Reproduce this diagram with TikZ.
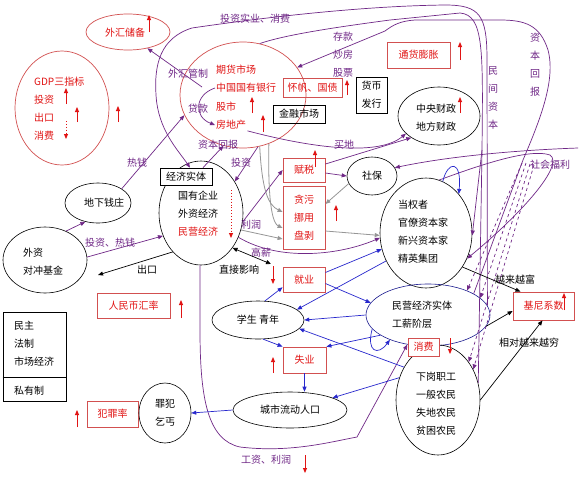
\documentclass[tikz,border=0pt]{standalone}
\usepackage{fontspec}
\setmainfont{Noto Sans CJK SC}
\usetikzlibrary{arrows.meta,shapes.geometric,calc}
\definecolor{pur}{RGB}{112,40,135}
\definecolor{redt}{RGB}{225,20,20}
\definecolor{redbd}{RGB}{210,80,80}
\definecolor{blu}{RGB}{40,40,205}
\definecolor{gr}{RGB}{150,150,150}
\begin{document}
\begin{tikzpicture}[x=1pt,y=-1pt,
  every node/.style={font=\fontsize{10}{18}\selectfont, inner sep=1pt},
  ell/.style={ellipse, draw=black, line width=0.6pt, inner sep=0pt},
  rell/.style={ellipse, draw=redbd, line width=0.7pt, inner sep=0pt},
  rbox/.style={draw=redbd, line width=0.8pt, text=redt, inner sep=0pt, align=center},
  kbox/.style={draw=black, line width=0.7pt, inner sep=0pt, align=center},
  ptxt/.style={text=pur},
  rtxt/.style={text=redt},
  tip/.style={-{Triangle[length=5pt,width=4pt]}},
  parr/.style={draw=pur, line width=0.7pt, tip},
  pline/.style={draw=pur, line width=0.7pt},
  pdash/.style={draw=pur, line width=0.7pt, dashed, tip},
  barr/.style={draw=blu, line width=0.7pt, tip},
  garr/.style={draw=gr, line width=0.8pt, tip},
  karr/.style={draw=black, line width=0.7pt, tip},
  kdarr/.style={draw=black, line width=0.7pt, {Triangle[length=5pt,width=4pt]}-{Triangle[length=5pt,width=4pt]}},
  redarr/.style={draw=redt, line width=0.9pt, -{Triangle[length=5pt,width=4pt]}},
  reddot/.style={draw=redt, line width=0.9pt, dotted, -{Triangle[length=5pt,width=4pt]}}
]
\fill[white] (0,0) rectangle (580,480);
\useasboundingbox (0,0) rectangle (580,480);

% ---------- shapes ----------
\node[rell, minimum width=84pt, minimum height=36pt] (whcb) at (128,32) {};
\node[rtxt] (twhcb) at (125,33) {外汇储备};
\node[rell, minimum width=94pt, minimum height=114pt] (gdp) at (62,108) {};
\node[rtxt, anchor=west, align=left] (tgdp) at (33,108.5) {GDP三指标\\投资\\出口\\消费};

\node[rell, minimum width=126pt, minimum height=106pt] (jr) at (243,95) {};
\node[rtxt, anchor=west] (qh) at (215,70) {期货市场};
\node[rtxt, anchor=west] (yh) at (215,88) {中国国有银行};
\node[rtxt, anchor=west] (gs) at (215,107) {股市};
\node[rtxt, anchor=west] (fdc) at (215,125) {房地产};
\node[ptxt] (wgz) at (188,74) {外汇管制};
\node[ptxt] (dk) at (198,109) {贷款};

\node[rbox, minimum width=59pt, minimum height=19pt] (hf) at (312.5,87.5) {怀帆、国债};
\node[kbox, minimum width=31pt, minimum height=36pt] (hb) at (371.5,95) {货币\\发行};
\node[kbox, minimum width=52pt, minimum height=18pt] (jrsc) at (299,114) {金融市场};
\node[rbox, minimum width=63pt, minimum height=26pt] (thpz) at (418.5,55) {通货膨胀};
\node[ell, minimum width=82pt, minimum height=58pt] (cz) at (439,116) {};
\node[anchor=west, align=left] (tcz) at (415,117.5) {中央财政\\地方财政};

\node[ptxt] (ltz) at (255,19) {投资实业、消费};
\node[ptxt, align=center] (lck) at (343,55) {存款\\炒房\\股票};
\node[ptxt, align=center] (lmj) at (493,98) {民\\间\\资\\本};
\node[ptxt, align=center] (lzb) at (535,65) {资\\本\\回\\报};
\node[ptxt] (lzbh) at (218,145) {资本回报};
\node[ptxt] (ltzi) at (241,163) {投资};
\node[ptxt] (lmd) at (344,145) {买地};

\node[ell, minimum width=84pt, minimum height=104pt] (gy) at (201,213) {};
\node[kbox, fill=white, minimum width=52pt, minimum height=17pt] (jjst) at (186,176.5) {经济实体};
\node[anchor=west, align=left] (tgy) at (177,214) {国有企业\\外资经济\\\textcolor{redt}{民营经济}};

\node[ell, minimum width=66pt, minimum height=40pt] (dxqz) at (98,203) {};
\node (tdx) at (104,203) {地下钱庄};
\node[ptxt] (lrq) at (137,163) {热钱};
\node[ell, minimum width=84pt, minimum height=66pt] (wz) at (45,260) {};
\node[anchor=west, align=left] (twz) at (22,261.5) {外资\\对冲基金};
\node[ptxt] (ltzrq) at (110,243) {投资、热钱};
\node (lck2) at (147,270) {出口};
\node[rbox, minimum width=73pt, minimum height=25pt] (rmb) at (133.5,305.5) {人民币汇率};

\node[kbox, minimum width=63pt, minimum height=89pt] (mz) at (34.5,356.5) {};
\draw[line width=0.7pt] (mz.west |- 0,377) -- (mz.east |- 0,377);
\node[anchor=west, align=left] (tmz) at (13,343.5) {民主\\法制\\市场经济};
\node[anchor=west] (tsy) at (13,391) {私有制};
\node[rbox, minimum width=51pt, minimum height=26pt] (fzl) at (112.5,414) {犯罪率};
\node[ell, minimum width=52pt, minimum height=60pt, align=center] (zf) at (165,413) {罪犯\\乞丐};
\node[ell, minimum width=114pt, minimum height=36pt] (cs) at (290,410) {城市流动人口};
\node[ell, minimum width=92pt, minimum height=38pt] (xs) at (258,320) {学生\ 青年};

\node[rbox, minimum width=42pt, minimum height=24pt] (fs) at (304,170) {赋税};
\node[rbox, minimum width=42pt, minimum height=63pt] (tw) at (304,218) {贪污\\挪用\\盘剥};
\node[ell, minimum width=50pt, minimum height=38pt] (sb) at (372,176) {社保};
\node[ell, minimum width=92pt, minimum height=110pt] (dq) at (426,233) {};
\node[anchor=west, align=left] (tdq) at (397,232) {当权者\\官僚资本家\\新兴资本家\\精英集团};
\node[ptxt] (lsh) at (550,165) {社会福利};
\node (lyf) at (515,280) {越来越富};
\node[rbox, minimum width=61pt, minimum height=28pt] (gn) at (543.5,306) {基尼系数};
\node[rbox, minimum width=42pt, minimum height=25pt] (jy) at (304,279.5) {就业};
\node[ptxt] (llr) at (251,225) {利润};
\node[ptxt] (lgx) at (261,253) {高薪};
\node (lzj) at (239,270) {直接影响};

\node[ell, draw=blu!70!black, minimum width=124pt, minimum height=62pt] (my) at (428,315) {};
\node[anchor=west, align=left] (tmy) at (391,314.5) {民营经济实体\\工薪阶层};
\node[ell, minimum width=84pt, minimum height=110pt] (xg) at (438,400) {};
\node[rbox, fill=white, minimum width=31pt, minimum height=18pt] (xf) at (423.5,347) {消费};
\node[anchor=west, align=left] (txg) at (415,403.5) {下岗职工\\一般农民\\失地农民\\贫困农民};
\node (lxd) at (529,343) {相对越来越穷};
\node[rbox, minimum width=43pt, minimum height=26pt] (sy) at (304.5,360) {失业};
\node[ptxt] (lgz) at (266,460) {工资、利润};

% ---------- purple connectors ----------
\coordinate (wgzs) at (202,87);
\draw[parr] (wgzs) -- (whcb.-40);
\draw[parr] (yh.west) .. controls (194,95) and (194,117) .. (fdc.west);
\draw[parr] (dxqz.31) -- (jr.199);
\draw[parr] (wz.54) -- (dxqz.236);
\draw[parr] (wz.4) -- (gy.211);
\coordinate (ckend) at (98,275);
\draw[karr] (gy.234) -- (ckend);
\draw[parr] ([xshift=17pt]jjst.north) -- (jr.249);
\draw[parr] (jr.-74) -- (gy.43);
\draw[parr] (gy.-12) -- (fs.west);
\draw[garr] (gy.-23) -- ([yshift=-21pt]tw.west);
\draw[garr] (jr.-72) .. controls (262,190) and (268,205) .. ([yshift=6pt]tw.west);
\draw[garr] (jr.-62) .. controls (268,185) and (270,222) .. ([yshift=-10pt]tw.west);
\draw[parr] (gy.-33) .. controls (280,262) and (340,255) .. (dq.186);
\draw[parr] ([yshift=-3pt]fs.east) -- (sb.west);
\draw[garr] (sb.198) -- ([yshift=14pt]tw.east);
\draw[garr] ([yshift=-13pt]tw.east) -- (dq.183);
\draw[parr] ([yshift=6pt]fs.east) -- (cz.218);
\draw[parr] (fdc.south east) .. controls (320,150) and (380,155) .. (cz.208);

\draw[parr] (my.9) -- (487,60) .. controls (487,15) and (480,5) .. (445,5)
   .. controls (360,6) and (260,18) .. (192,28) .. controls (160,38) and (154,65) .. (156,95)
   .. controls (158,130) and (178,150) .. ([xshift=4pt]jjst.north);
\draw[pline] (xg.23) -- (482,150) .. controls (483,50) and (484,15) .. (460,13)
   -- (390,20) .. controls (330,28) and (285,35) .. (jr.72);
\coordinate (dst) at (482,150);
\draw[parr] (dst) -- (dq.-3);
\draw[parr] (my.25) -- (523,160) .. controls (540,120) and (556,80) .. (548,50)
   .. controls (540,25) and (525,20) .. (500,20) -- (415,20)
   .. controls (400,21) and (393,25) .. (385,31) -- (jr.27);
\coordinate (swR) at (578,148);
\draw[parr] (swR) .. controls (520,150) and (450,156) .. (sb.20);
\draw[parr] (dq.76) .. controls (480,165) and (530,148) .. (550,155)
   .. controls (565,165) and (520,215) .. (dq.-32);
\coordinate (sd1) at (522,163);
\coordinate (sd2) at (526,163);
\coordinate (sd3) at (530,164);
\coordinate (sd4) at (534,165);
\draw[pdash] (sd1) -- (my.32);
\draw[pdash] (sd2) -- (my.18);
\draw[pdash] (sd3) -- (xg.51);
\draw[pdash] (sd4) -- (xg.41);
\draw[parr] (gy.-91) -- (200,330) .. controls (200,400) and (208,440) .. (240,447)
   .. controls (290,453) and (330,442) .. (357,437) -- (my.-125);

% ---------- black ----------
\draw[karr] (dq.-43) -- ([xshift=-23pt]gn.north);
\draw[karr] (xg.east) -- ([xshift=-1pt]gn.south);
\draw[karr] (my.-11) -- ([yshift=-5pt]gn.west);
\coordinate (gxend) at (271,264);
\draw[kdarr] (gy.-48) -- (gxend);

% ---------- blue ----------
\draw[barr] (xs.70) -- (jy.200);
\draw[barr] ([yshift=7pt]jy.east) -- (dq.200);
\draw[barr] ([yshift=-4pt]jy.east) -- (my.168);
\draw[barr] (dq.215) -- (xs.15);
\draw[barr] (my.180) -- (xs.east);
\draw[barr] (xg.136) -- (xs.-12);
\draw[barr] (xs.-75) -- (sy.north west);
\draw[barr] (my.203) -- (sy.north east);
\draw[barr] (sy.south) -- (sy.south |- cs.north);
\draw[barr] (xg.150) -- (cs.16);
\draw[barr] (cs.west) -- (zf.east);
\draw[barr] (my.194) .. controls (366,352) and (378,356) .. (my.213);
\draw[barr] (dq.72) .. controls (448,160) and (462,160) .. (dq.50);

% ---------- red indicator arrows ----------
\draw[redarr] (149,32) -- (149,15);
\draw[redarr] (66,104) -- (66,88);
\draw[redarr] (77,122) -- (77,107);
\draw[reddot] (66,121) -- (66,139);
\draw[redarr] (118,122) -- (118,106);
\draw[redarr] (252,113) -- (252,97);
\draw[redarr] (263,132) -- (263,115);
\draw[redarr] (347,95) -- (347,80);
\draw[redarr] (460,60) -- (460,42);
\draw[redarr] (460,113) -- (460,97);
\draw[redarr] (315,167) -- (315,150);
\draw[redarr] (336,221) -- (336,205);
\draw[reddot] (231,190) -- (231,238);
\draw[redarr] (181,318) -- (181,300);
\draw[redarr] (273,266) -- (273,284);
\draw[redarr] (273,373) -- (273,357);
\draw[redarr] (77,427) -- (77,410);
\draw[redarr] (450,338) -- (450,354);
\draw[redarr] (564,310) -- (564,293);
\draw[redarr] (305,455) -- (305,473);
\end{tikzpicture}
\end{document}
